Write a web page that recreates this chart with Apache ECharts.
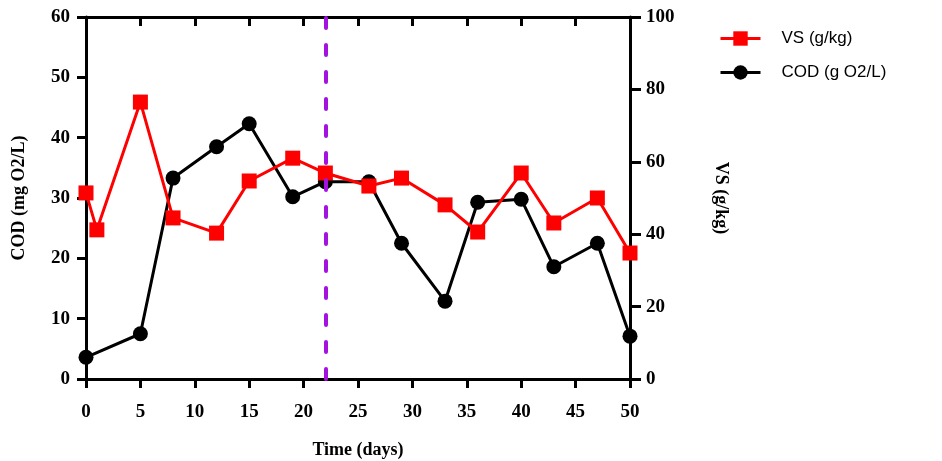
<!DOCTYPE html>
<html>
<head>
<meta charset="utf-8">
<script src="https://cdn.jsdelivr.net/npm/echarts@6/dist/echarts.min.js"></script>
<style>html,body{margin:0;padding:0;background:#fff}#c{width:942px;height:461px}</style>
</head>
<body>
<div id="c"></div>
<script>
const codDays = [0, 5, 8, 12, 15, 19, 22, 26, 29, 33, 36, 40, 43, 47, 50];
const codValues = [3.6, 7.5, 33.3, 38.5, 42.3, 30.2, 32.7, 32.7, 22.5, 12.9, 29.3, 29.8, 18.6, 22.5, 7.1];
const vsDays = [0, 1, 5, 8, 12, 15, 19, 22, 26, 29, 33, 36, 40, 43, 47, 50];
const vsValues = [51.4, 41.2, 76.5, 44.5, 40.3, 54.7, 61.0, 56.9, 53.3, 55.5, 48.1, 40.6, 56.9, 43.1, 50.0, 34.8];
const markerDay = 22;
const seriesNames = ['VS (g/kg)', 'COD (g O2/L)'];
const xTitle = 'Time (days)';
const leftTitle = 'COD (mg O2/L)';
const rightTitle = 'VS (g/kg)';

const serif = '"Liberation Serif", "DejaVu Serif", serif';
const sans = '"Liberation Sans", Arial, sans-serif';
const chart = echarts.init(document.getElementById('c'));
const axisLine = {show: true, onZero: false, lineStyle: {color: '#000', width: 3}};
const tickLbl = {color: '#000', fontFamily: serif, fontWeight: 'bold', fontSize: 19};
const titleStyle = {color: '#000', fontFamily: serif, fontWeight: 'bold', fontSize: 18};

chart.setOption({
  animation: false,
  backgroundColor: '#fff',
  grid: {left: 86, right: 312, top: 17, bottom: 82, containLabel: false, outerBoundsMode: 'none'},
  legend: {
    left: 714, top: 25, orient: 'vertical', itemWidth: 40, itemHeight: 18, itemGap: 17,
    data: seriesNames,
    lineStyle: {width: 3},
    textStyle: {color: '#000', fontFamily: sans, fontSize: 17, padding: [0, 0, 0, 16]}
  },
  xAxis: [{
    type: 'value', min: 0, max: 50, interval: 5, position: 'bottom',
    axisLine: axisLine, splitLine: {show: false},
    axisTick: {show: true, length: 9, lineStyle: {color: '#000', width: 3}},
    axisLabel: Object.assign({margin: 24}, tickLbl),
    name: xTitle, nameLocation: 'middle', nameGap: 62, nameTextStyle: titleStyle
  }, {
    type: 'value', min: 0, max: 50, interval: 5, position: 'top',
    axisLine: axisLine, splitLine: {show: false},
    axisTick: {show: true, inside: true, length: 9, lineStyle: {color: '#000', width: 3}},
    axisLabel: {show: false}
  }],
  yAxis: [{
    type: 'value', min: 0, max: 60, interval: 10, position: 'left',
    axisLine: axisLine, splitLine: {show: false},
    axisTick: {show: true, length: 9, lineStyle: {color: '#000', width: 3}},
    axisLabel: Object.assign({margin: 16}, tickLbl),
    name: leftTitle, nameLocation: 'middle', nameRotate: 90, nameGap: 58, nameTextStyle: titleStyle
  }, {
    type: 'value', min: 0, max: 100, interval: 20, position: 'right',
    axisLine: axisLine, splitLine: {show: false},
    axisTick: {show: true, length: 11, lineStyle: {color: '#000', width: 3}},
    axisLabel: Object.assign({margin: 16}, tickLbl),
    name: rightTitle, nameLocation: 'middle', nameRotate: -90, nameGap: 82, nameTextStyle: titleStyle
  }],
  series: [{
    name: seriesNames[1], type: 'line', xAxisIndex: 0, yAxisIndex: 0,
    data: codDays.map((d, i) => [d, codValues[i]]),
    symbol: 'circle', symbolSize: 15,
    lineStyle: {color: '#000', width: 3}, itemStyle: {color: '#000'},
    z: 2,
    markLine: {
      silent: true, symbol: 'none', label: {show: false},
      lineStyle: {color: '#a412e0', width: 4, type: [10, 17], cap: 'round'},
      data: [{xAxis: markerDay}]
    }
  }, {
    name: seriesNames[0], type: 'line', xAxisIndex: 0, yAxisIndex: 1,
    data: vsDays.map((d, i) => [d, vsValues[i]]),
    symbol: 'rect', symbolSize: 15,
    lineStyle: {color: '#ff0000', width: 3}, itemStyle: {color: '#ff0000'},
    z: 3
  }]
});
</script>
</body>
</html>
